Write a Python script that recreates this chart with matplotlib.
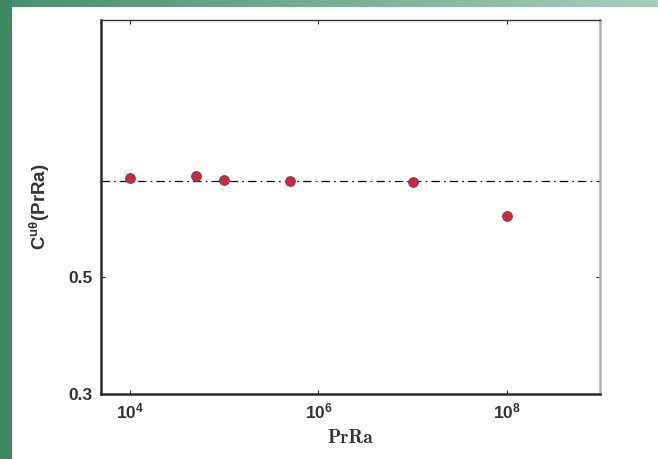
import matplotlib
matplotlib.use("Agg")
import matplotlib.pyplot as plt
import numpy as np
from matplotlib.patches import Rectangle

plt.rcParams['mathtext.fontset'] = 'custom'
plt.rcParams['mathtext.bf'] = 'Liberation Sans:bold'
plt.rcParams['mathtext.rm'] = 'Liberation Sans'
plt.rcParams['mathtext.it'] = 'Liberation Sans:italic'
plt.rcParams['lines.scale_dashes'] = False

# data
prra = [1e4, 5e4, 1e5, 5e5, 1e7, 1e8]
c_utheta = [0.771, 0.776, 0.763, 0.761, 0.758, 0.653]
c_const = 0.760
xticks = [1e4, 1e6, 1e8]
xticklabels = [r'$\mathbf{10^{4}}$', r'$\mathbf{10^{6}}$', r'$\mathbf{10^{8}}$']
yticks = [0.3, 0.5]
yticklabels = ['0.3', '0.5']

W, H = 658, 459
fig = plt.figure(figsize=(W / 100, H / 100), dpi=100)
fig.patch.set_facecolor('white')

# green frame (left band, top gradient band)
grad = np.linspace(0, 1, 256).reshape(1, -1)
c0 = np.array([0x46, 0x8f, 0x6c]) / 255
c1 = np.array([0xa8, 0xcd, 0xbc]) / 255
img = c0[None, None, :] * (1 - grad[..., None]) + c1[None, None, :] * grad[..., None]
ax_top = fig.add_axes([0, 1 - 7 / H, 1, 7 / H])
ax_top.imshow(img, aspect='auto', extent=[0, 1, 0, 1])
ax_top.axis('off')
fig.patches.append(Rectangle((0, 0), 12 / W, 1, transform=fig.transFigure,
                             facecolor='#3e8864', edgecolor='none', zorder=5))

ax = fig.add_axes([101 / W, 1 - 394 / H, (600 - 101) / W, (394 - 20) / H])
ax.set_xscale('log')
ax.set_yscale('log')
ax.set_xlim(10 ** 3.69, 10 ** 8.99)
ax.set_ylim(0.3, 1.536)

ax.axhline(c_const, color='black', lw=0.9, linestyle=(0, (6, 3, 1.2, 3)), zorder=1)
ax.plot(prra, c_utheta, linestyle='none', marker='o', ms=7,
        mfc='#e4202a', mec='#4a4aa0', mew=0.7, zorder=3)

ax.set_xticks(xticks)
ax.set_xticklabels(xticklabels, fontsize=12.5)
ax.set_yticks(yticks)
ax.set_yticklabels(yticklabels, fontsize=12.5, fontweight='bold', family='Liberation Sans')
ax.minorticks_off()
ax.tick_params(which='both', direction='in', length=3, width=0.8, top=True, right=True,
               pad=6, colors='#333333', labelcolor='#333333')

for s in ['left', 'bottom']:
    ax.spines[s].set_linewidth(1.8)
    ax.spines[s].set_color('#2a2a2a')
ax.spines['top'].set_linewidth(1.0)
ax.spines['top'].set_color('#333333')
ax.spines['right'].set_linewidth(1.8)
ax.spines['right'].set_color('#b0b0b0')

ax.set_xlabel('PrRa', family='cmb10', fontsize=14, color='#333333', labelpad=5)
ax.set_ylabel(r'$\mathbf{C^{u\theta}(PrRa)}$', fontsize=13.5, color='#333333', labelpad=12)

fig.savefig('out.png', dpi=100, facecolor='white')
